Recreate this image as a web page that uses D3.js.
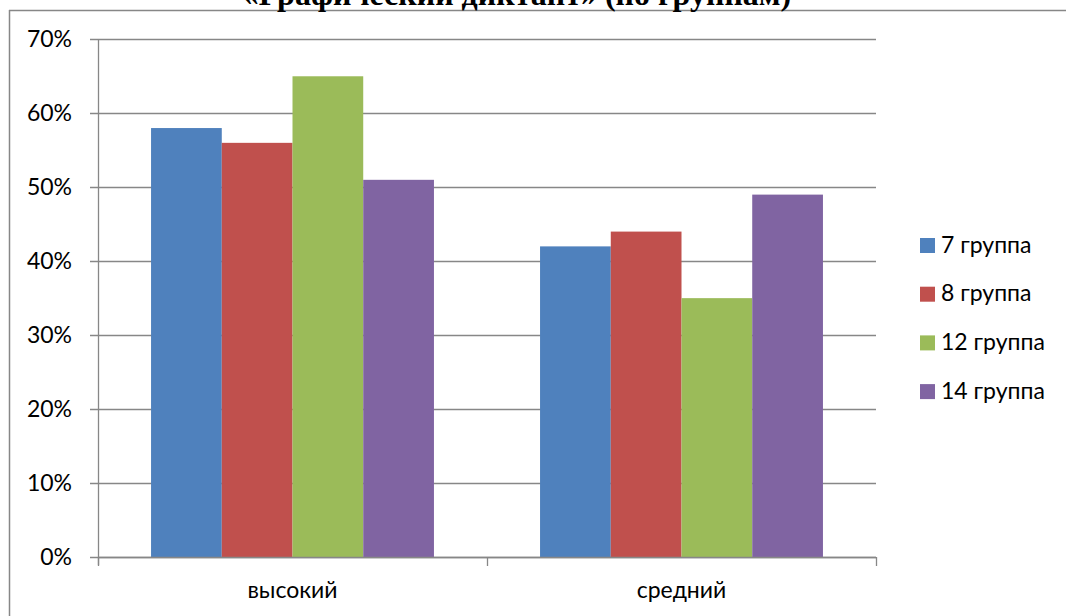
<!DOCTYPE html>
<html><head><meta charset="utf-8">
<script src="https://cdn.jsdelivr.net/npm/d3@7"></script>
<style>body{margin:0;background:#fff}svg{display:block}</style>
</head><body>
<script>
const title = "«Графический диктант» (по группам)";
const categories = ["высокий", "средний"];
const seriesNames = ["7 группа", "8 группа", "12 группа", "14 группа"];
const group7 = [0.58, 0.42];
const group8 = [0.56, 0.44];
const group12 = [0.65, 0.35];
const group14 = [0.51, 0.49];
const yTicks = [0, 0.1, 0.2, 0.3, 0.4, 0.5, 0.6, 0.7];
const colors = ["#4F81BD", "#C0504D", "#9BBB59", "#8064A2"];

const seriesValues = [group7, group8, group12, group14];
const W = 1066, H = 616;
const svg = d3.select("body").append("svg").attr("width", W).attr("height", H);
const gridColor = "#878787";
const font = "Lato, 'Open Sans', sans-serif";
const fs = 23;

// frame
svg.append("line").attr("x1", 9).attr("x2", W).attr("y1", 10.5).attr("y2", 10.5).attr("stroke", gridColor).attr("stroke-width", 1.5);
svg.append("line").attr("x1", 9.5).attr("x2", 9.5).attr("y1", 10).attr("y2", H).attr("stroke", gridColor).attr("stroke-width", 1.5);

// title (mostly cut off above frame, as in the reference)
svg.append("text").attr("x", 517).attr("y", 5).attr("text-anchor", "middle")
  .attr("font-family", "'Liberation Serif', 'Times New Roman', serif").attr("font-weight", "bold")
  .attr("font-size", 32).text(title);

const x0 = 98, x1 = 876, yBase = 557, yTop = 39.3;
const y = d3.scaleLinear().domain([0, 0.7]).range([yBase, yTop]);
const xb = d3.scaleBand().domain(categories).range([x0, x1]).padding(0);
const bw = xb.bandwidth();
const xs = d3.scaleBand().domain(seriesNames).range([bw * 0.75 / 5.5, bw * 4.75 / 5.5]).padding(0);

// gridlines
svg.append("g").selectAll("line").data(yTicks).join("line")
  .attr("x1", x0 - 8).attr("x2", x1).attr("y1", d => Math.round(y(d)) + 0.5).attr("y2", d => Math.round(y(d)) + 0.5)
  .attr("stroke", gridColor).attr("stroke-width", 1.3);

// y labels
svg.append("g").selectAll("text").data(yTicks).join("text")
  .attr("x", 72).attr("y", d => y(d) + 8).attr("text-anchor", "end")
  .attr("font-family", font).attr("font-size", fs).attr("fill", "#000")
  .text(d => d3.format(".0%")(d));

// bars
const data = [];
categories.forEach((c, ci) => seriesNames.forEach((s, si) => data.push({c, s, si, v: seriesValues[si][ci]})));
svg.append("g").selectAll("rect").data(data).join("rect")
  .attr("x", d => xb(d.c) + xs(d.s)).attr("width", xs.bandwidth())
  .attr("y", d => y(d.v)).attr("height", d => yBase - y(d.v))
  .attr("fill", d => colors[d.si]);

// y axis line
svg.append("line").attr("x1", x0 + 0.5).attr("x2", x0 + 0.5).attr("y1", yTop).attr("y2", yBase + 8)
  .attr("stroke", gridColor).attr("stroke-width", 1.3);
// x axis line
svg.append("line").attr("x1", x0).attr("x2", x1).attr("y1", yBase + 0.5).attr("y2", yBase + 0.5)
  .attr("stroke", gridColor).attr("stroke-width", 1.5);
// x ticks at band boundaries
const xTickPos = categories.map(c => xb(c)).concat([x1]);
svg.append("g").selectAll("line").data(xTickPos).join("line")
  .attr("x1", d => Math.round(d) + 0.5).attr("x2", d => Math.round(d) + 0.5).attr("y1", yBase).attr("y2", yBase + 9)
  .attr("stroke", gridColor).attr("stroke-width", 1.3);

// category labels
svg.append("g").selectAll("text").data(categories).join("text")
  .attr("x", d => xb(d) + bw / 2).attr("y", 598).attr("text-anchor", "middle")
  .attr("font-family", font).attr("font-size", fs).attr("fill", "#000").text(d => d);

// legend
const lg = svg.append("g").selectAll("g").data(seriesNames).join("g")
  .attr("transform", (d, i) => `translate(920, ${238 + i * 48.7})`);
lg.append("rect").attr("width", 15).attr("height", 15).attr("fill", (d, i) => colors[i]);
lg.append("text").attr("x", 21).attr("y", 14.5).attr("font-family", font).attr("font-size", fs).attr("fill", "#000").text(d => d);
</script>
</body></html>
